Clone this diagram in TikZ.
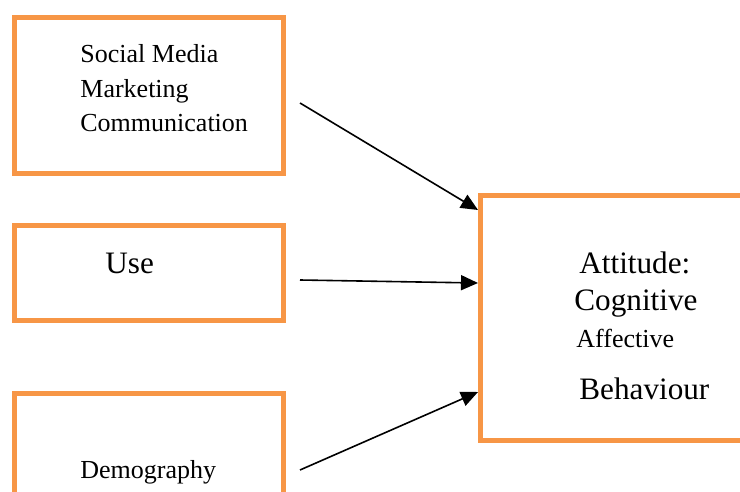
\documentclass[tikz,border=0pt]{standalone}
\usepackage{fontspec}
\setmainfont{Liberation Serif}
\usepackage{xcolor}
\usetikzlibrary{positioning, arrows.meta}

\definecolor{boxorange}{RGB}{247,150,70}

\tikzset{
    factor/.style={draw=boxorange, line width=2.5pt, inner sep=0pt},
    label13/.style={anchor=base west, inner sep=0pt, font=\fontsize{13}{17.25}\selectfont, align=left},
    label15/.style={anchor=base west, inner sep=0pt, font=\fontsize{15.6}{18}\selectfont},
    link/.style={-{Triangle[length=8.5pt, width=7.5pt]}, line width=0.8pt}
}

\begin{document}
\begin{tikzpicture}[x=0.5pt, y=-0.5pt]
    \clip (0,0) rectangle (740,492);

    % Boxes
    \node (smm) [factor, minimum width=134.5pt, minimum height=78pt] at (149,95.5) {};
    \node (use) [factor, minimum width=134.5pt, minimum height=47.5pt] at (149,273) {};
    \node (demo) [factor, minimum width=134.5pt, minimum height=73.5pt] at (149,467) {};
    \node (attitude) [factor, minimum width=144.75pt, minimum height=122.5pt] at (625.25,318) {};

    % Texts (base of the last line)
    \node (smmtext) [label13] at (80,132) {Social Media\\Marketing\\Communication};
    \node (usetext) [label15] at (105,273) {Use};
    \node (demotext) [label13] at (80,478) {Demography};
    \node (atttext) [label15] at (579,274) {Attitude:};
    \node (cogtext) [label15] at (574,310) {Cognitive};
    \node (afftext) [label13] at (576,348) {Affective};
    \node (behtext) [label15] at (579,399) {Behaviour};

    % Edges
    \coordinate (smmstart) at (300,103);
    \coordinate (usestart) at (300,280);
    \coordinate (demostart) at (300,470);
    \draw[link] (smmstart) -- ([yshift=54pt]attitude.west);
    \draw[link] (usestart) -- ([yshift=17.5pt]attitude.west);
    \draw[link] (demostart) -- ([yshift=-37pt]attitude.west);
\end{tikzpicture}
\end{document}
